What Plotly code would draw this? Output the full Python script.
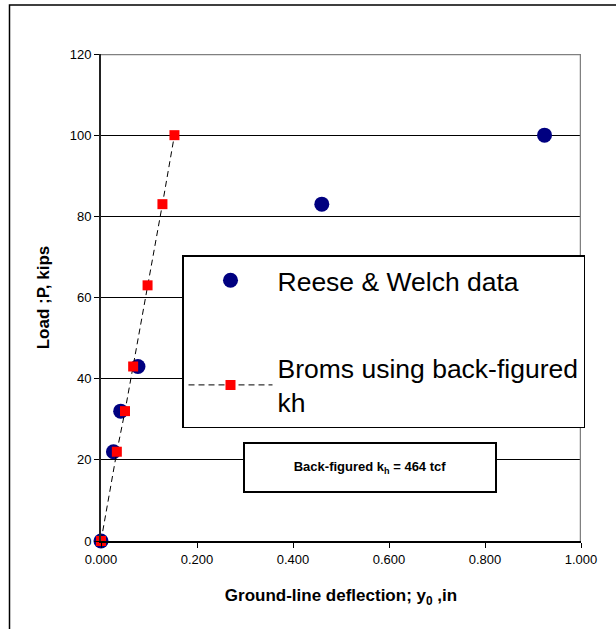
import plotly.graph_objects as go

# Measured pile-head response (Reese & Welch) and Broms prediction
reese_x = [0.0, 0.026, 0.041, 0.077, 0.46, 0.924]
reese_y = [0, 22, 32, 43, 83, 100]
broms_x = [0.0, 0.033, 0.050, 0.067, 0.097, 0.128, 0.153]
broms_y = [0, 22, 32, 43, 63, 83, 100]

x_ticks = [0.0, 0.2, 0.4, 0.6, 0.8, 1.0]
y_ticks = [0, 20, 40, 60, 80, 100, 120]

FONT = "Arial, Liberation Sans, sans-serif"

fig = go.Figure()

fig.add_trace(go.Scatter(
    x=reese_x, y=reese_y, mode="markers", name="Reese & Welch data",
    legendgroup="a", cliponaxis=False,
    marker=dict(symbol="circle", size=15, color="#000080",
                line=dict(width=0)),
))
fig.add_trace(go.Scatter(
    x=broms_x, y=broms_y, mode="lines+markers",
    name="Broms using back-figured<br>kh", legendgroup="b", cliponaxis=False,
    line=dict(color="black", width=1, dash="6px,4px"),
    marker=dict(symbol="square", size=10, color="#FF0000",
                line=dict(width=0)),
))

# Plot-area frame (grey top / right edges) and outer chart border
shapes = [
    dict(type="line", xref="x", yref="y", x0=0, x1=1, y0=120, y1=120,
         line=dict(color="#808080", width=2.5), layer="above"),
    dict(type="line", xref="x", yref="y", x0=1, x1=1, y0=0, y1=120,
         line=dict(color="#808080", width=2.5), layer="above"),
    dict(type="rect", xref="paper", yref="paper",
         x0=(9.5 - 101) / 480, x1=(640 - 101) / 480,
         y0=(541 - 650) / 487, y1=(541 - 5) / 487,
         line=dict(color="black", width=1.5), fillcolor="rgba(0,0,0,0)"),
]

fig.add_annotation(
    x=0.56, y=18.2, xref="x", yref="y",
    text="<b>Back-figured k<sub>h</sub> = 464 tcf</b>",
    showarrow=False, width=250, height=47, align="center",
    bgcolor="white", bordercolor="black", borderwidth=2, borderpad=0,
    font=dict(family=FONT, size=13, color="black"),
)

fig.update_layout(
    width=616, height=629,
    margin=dict(l=101, r=35, t=54, b=88),
    paper_bgcolor="white", plot_bgcolor="white",
    font=dict(family=FONT, size=13, color="black"),
    shapes=shapes,
    showlegend=True,
    legend=dict(
        x=(182 - 101) / 480, y=(541 - 255) / 487,
        xanchor="left", yanchor="top",
        bgcolor="white", bordercolor="black", borderwidth=1.5,
        font=dict(family=FONT, size=26.5, color="black"),
        traceorder="grouped", tracegroupgap=50, itemwidth=84,
        entrywidth=312,
    ),
    xaxis=dict(
        range=[0, 1], tickvals=x_ticks, tickformat=".3f",
        showgrid=False, zeroline=False,
        showline=True, linecolor="black", linewidth=2,
        ticks="outside", ticklen=5, tickcolor="black", tickwidth=1,
        tickfont=dict(family=FONT, size=13),
        title=dict(text="<b>Ground-line deflection; y<sub>0</sub> ,in</b>",
                   font=dict(family=FONT, size=17), standoff=24),
    ),
    yaxis=dict(
        range=[0, 120], tickvals=y_ticks,
        showgrid=True, gridcolor="black", gridwidth=1, zeroline=False,
        showline=True, linecolor="#222222", linewidth=2,
        ticks="outside", ticklen=5, tickcolor="black", tickwidth=1,
        tickfont=dict(family=FONT, size=13),
        title=dict(text="<b>Load ;P, kips</b>",
                   font=dict(family=FONT, size=17), standoff=16),
    ),
)

fig.write_html("out.html")
